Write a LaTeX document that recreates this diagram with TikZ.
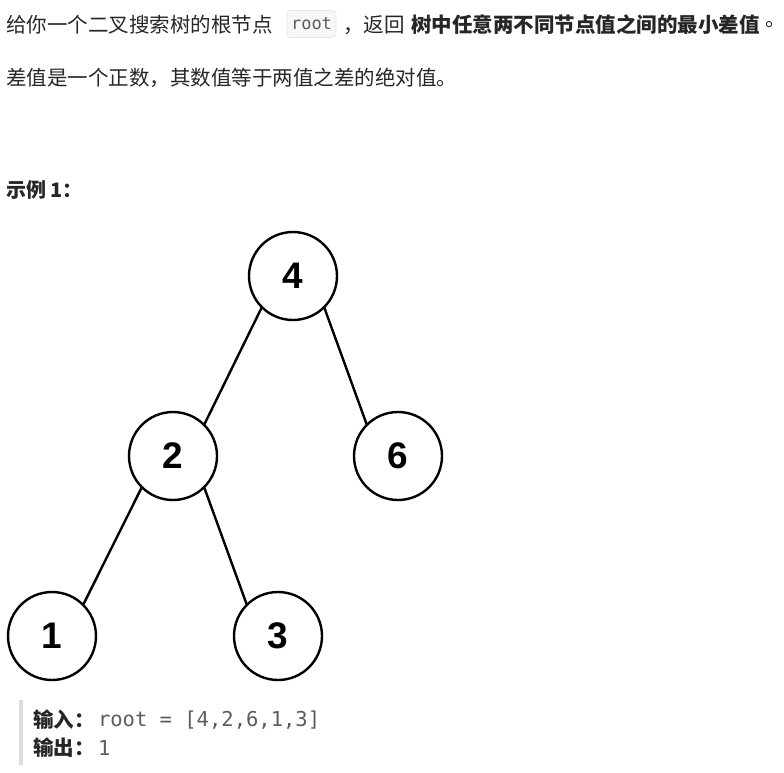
\documentclass[tikz,border=0pt]{standalone}
\usepackage{fontspec}
\setmainfont{Noto Sans CJK SC}
\setmonofont{DejaVu Sans Mono}
\newfontfamily\numfont{Liberation Sans}
\usepackage{xcolor}
\usetikzlibrary{positioning}
\definecolor{bodytext}{HTML}{262626}
\definecolor{codetext}{HTML}{5C5C5C}
\definecolor{codebg}{HTML}{F7F7F7}
\definecolor{codeline}{HTML}{E6E6E6}
\definecolor{quotebar}{HTML}{DDDDDD}

\begin{document}
\begin{tikzpicture}[x=1pt,y=-1pt,
  every node/.style={inner sep=0pt,outer sep=0pt,text=bodytext,font=\fontsize{20.5}{24}\selectfont},
  treenode/.style={circle,draw=black,line width=2.4pt,minimum size=88pt,text=black,
    font=\numfont\bfseries\fontsize{37}{40}\selectfont},
  treeedge/.style={line width=2.4pt}]
\useasboundingbox (0,0) rectangle (784,772);
% problem text
\node[anchor=west] (line1a) at (6,25) {给你一个二叉搜索树的根节点};
\node[fill=codebg,draw=codeline,line width=0.8pt,rounded corners=3pt,minimum width=49pt,minimum height=27pt,
  text=codetext,font=\ttfamily\fontsize{17}{20}\selectfont] (rootcode) at (311.5,24) {root};
\node[anchor=west] (line1b) at (343,25) {，返回};
\node[anchor=west,font=\bfseries\fontsize{20.5}{24}\selectfont] (line1c) at (411,25) {树中任意两不同节点值之间的最小差值};
\node[anchor=west] (line1d) at (765,25) {。};
\node[anchor=west] (line2) at (6,78) {差值是一个正数，其数值等于两值之差的绝对值。};
\node[anchor=west,font=\bfseries\fontsize{20}{22}\selectfont] (example) at (6,190) {示例 1：};
% tree
\node[treenode] (n4) at (293,276) {4};
\node[treenode] (n2) at (173,456) {2};
\node[treenode] (n6) at (398,456) {6};
\node[treenode] (n1) at (52,636) {1};
\node[treenode] (n3) at (278,636) {3};
\draw[treeedge] (n4.225) -- (n2.45);
\draw[treeedge] (n4.-45) -- (n6.135);
\draw[treeedge] (n2.225) -- (n1.45);
\draw[treeedge] (n2.-45) -- (n3.135);
% input / output
\fill[quotebar] (19,700) rectangle (23,765);
\node[anchor=west,font=\bfseries\fontsize{20.5}{24}\selectfont] (inlabel) at (33,720) {输入：};
\node[anchor=west,text=codetext,font=\ttfamily\fontsize{20.5}{24}\selectfont] (invalue) at (98,720) {root = [4,2,6,1,3]};
\node[anchor=west,font=\bfseries\fontsize{20.5}{24}\selectfont] (outlabel) at (33,748) {输出：};
\node[anchor=west,text=codetext,font=\ttfamily\fontsize{20.5}{24}\selectfont] (outvalue) at (98,748) {1};
\end{tikzpicture}
\end{document}
